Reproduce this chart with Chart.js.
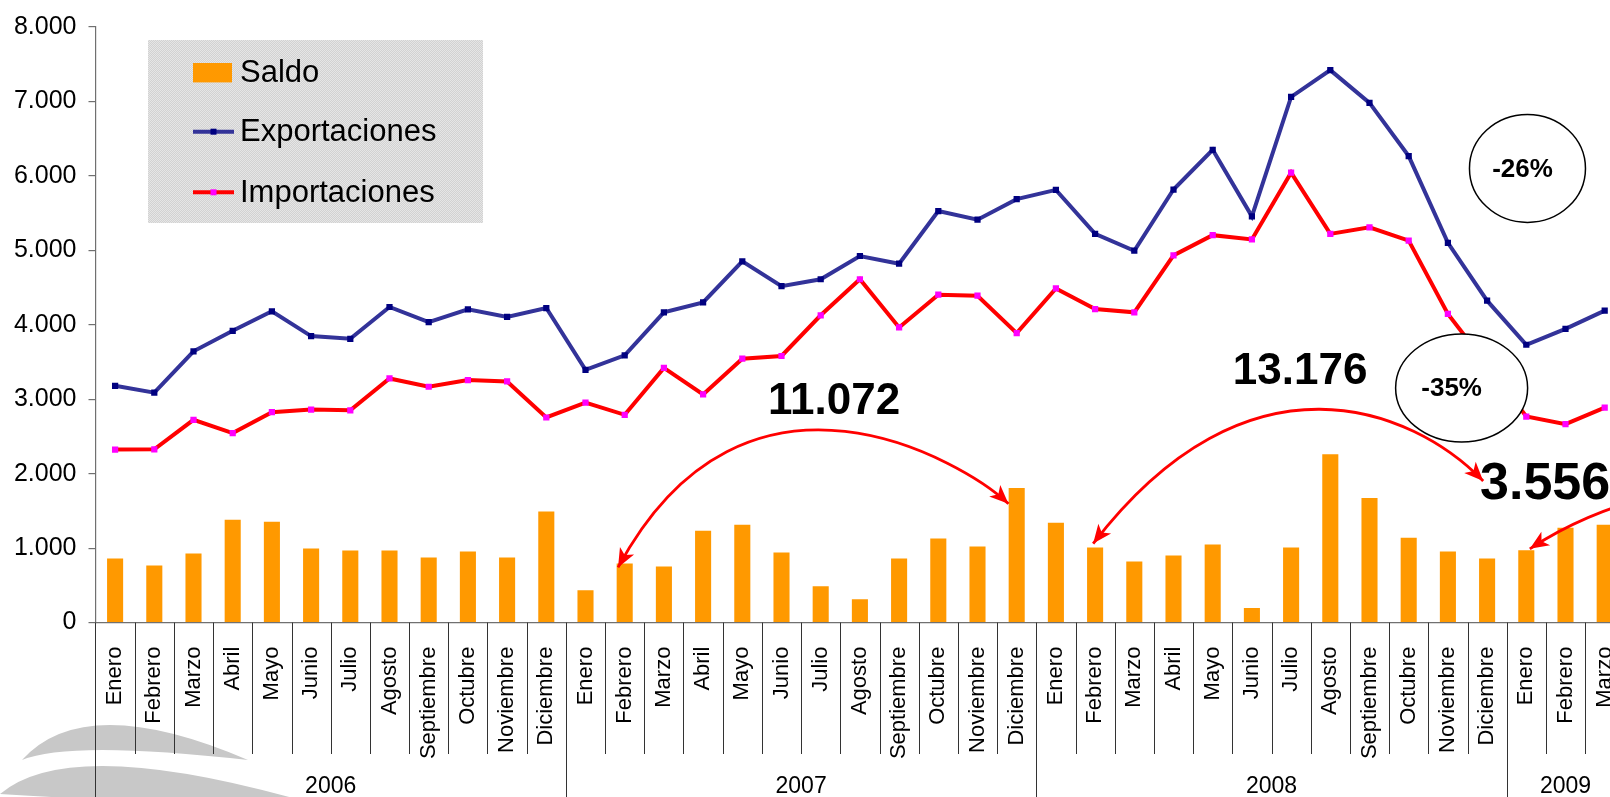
<!DOCTYPE html>
<html>
<head>
<meta charset="utf-8">
<script src="https://cdn.jsdelivr.net/npm/chart.js@4.4.1/dist/chart.umd.min.js"></script>
<style>
  html, body { margin: 0; padding: 0; background: #fff; overflow: hidden; }
  #wrap { width: 1610px; height: 797px; overflow: hidden; position: relative; }
  canvas { display: block; }
</style>
</head>
<body>
<div id="wrap"><canvas id="chart" width="1650" height="797"></canvas></div>
<script>
// Datos (millones), enero 2006 - marzo 2009
const meses = ['Enero', 'Febrero', 'Marzo', 'Abril', 'Mayo', 'Junio', 'Julio', 'Agosto',
  'Septiembre', 'Octubre', 'Noviembre', 'Diciembre'];
const anios = ['2006', '2007', '2008', '2009'];
const mesesPorAnio = [12, 12, 12, 3];

const exportaciones = [
  3181, 3088, 3644, 3919, 4181, 3848, 3812, 4239, 4035, 4208, 4105, 4225,
  3395, 3590, 4168, 4301, 4852, 4519, 4612, 4924, 4821, 5528, 5412, 5688,
  5812, 5221, 4995, 5817, 6351, 5457, 7061, 7421, 6981, 6266, 5101, 4324,
  3732, 3946, 4190
];
const importaciones = [
  2324, 2328, 2724, 2546, 2826, 2861, 2852, 3279, 3168, 3257, 3239, 2755,
  2955, 2791, 3421, 3065, 3545, 3581, 4128, 4612, 3964, 4404, 4391, 3888,
  4488, 4212, 4168, 4932, 5204, 5146, 6044, 5221, 5310, 5132, 4146, 3463,
  2768, 2665, 2888
];
const saldo = [
  861, 768, 928, 1381, 1355, 995, 968, 968, 875, 955, 875, 1492,
  435, 795, 755, 1235, 1315, 941, 488, 315, 861, 1128, 1021, 1808,
  1341, 1008, 821, 901, 1048, 195, 1008, 2261, 1675, 1141, 955, 861,
  972, 1275, 1315
];
const yTicks = [0, 1000, 2000, 3000, 4000, 5000, 6000, 7000, 8000];

// Totales anuales del saldo y variaciones (texto de las anotaciones)
const totales = ['11.072', '13.176', '3.556'];
const variaciones = ['-26%', '-35%'];

const categorias = anios.flatMap((a, k) => meses.slice(0, mesesPorAnio[k]));

const FONT = "'Liberation Sans', Arial, sans-serif";
const fmt = v => String(v).replace(/\B(?=(\d{3})+(?!\d))/g, '.');

// Logo gris (media lunas) abajo a la izquierda
const logoPlugin = {
  id: 'logo',
  beforeDraw(chart) {
    const ctx = chart.ctx;
    ctx.save();
    ctx.fillStyle = '#c8c8c8';
    ctx.beginPath();
    ctx.moveTo(22, 760);
    ctx.quadraticCurveTo(85, 690, 248, 760);
    ctx.quadraticCurveTo(70, 740, 22, 760);
    ctx.fill();
    ctx.beginPath();
    ctx.moveTo(0, 794);
    ctx.quadraticCurveTo(69, 735, 300, 800);
    ctx.quadraticCurveTo(110, 802, 0, 794);
    ctx.fill();
    ctx.restore();
  }
};

// Leyenda con fondo punteado
const leyendaPlugin = {
  id: 'leyenda',
  afterDraw(chart, args, o) {
    const ctx = chart.ctx;
    ctx.save();
    const c = document.createElement('canvas');
    c.width = 2; c.height = 2;
    const p = c.getContext('2d');
    p.fillStyle = '#d2d2d2'; p.fillRect(0, 0, 2, 2);
    p.fillStyle = '#e6e6e6'; p.fillRect(0, 0, 1, 1); p.fillRect(1, 1, 1, 1);
    ctx.fillStyle = ctx.createPattern(c, 'repeat');
    ctx.fillRect(o.x, o.y, o.w, o.h);

    ctx.font = o.fontSize + 'px ' + FONT;
    ctx.textBaseline = 'middle';
    ctx.textAlign = 'left';
    chart.data.datasets.forEach((ds, i) => {
      const cy = o.rowY[i];
      if (ds.type === 'bar') {
        ctx.fillStyle = ds.backgroundColor;
        ctx.fillRect(o.symX, cy - 9.7, o.symW - 2, 19.4);
      } else {
        ctx.strokeStyle = ds.borderColor;
        ctx.lineWidth = 4;
        ctx.beginPath();
        ctx.moveTo(o.symX, cy); ctx.lineTo(o.symX + o.symW, cy);
        ctx.stroke();
        ctx.fillStyle = ds.pointBackgroundColor;
        ctx.fillRect(o.symX + o.symW / 2 - 3, cy - 3, 6, 6);
      }
      ctx.fillStyle = '#000';
      ctx.fillText(ds.label, o.textX, cy + 1);
    });
    ctx.restore();
  }
};

// Separadores de meses y fila de años bajo el eje X
const aniosPlugin = {
  id: 'anios',
  afterDraw(chart, args, o) {
    const { ctx, scales: { x } } = chart;
    const top = x.top;
    const half = (x.getPixelForValue(1) - x.getPixelForValue(0)) / 2;
    ctx.save();
    ctx.strokeStyle = '#333';
    ctx.lineWidth = 1;
    const inicios = [];
    let acc = 0;
    mesesPorAnio.forEach(n => { inicios.push(acc); acc += n; });
    for (let i = 0; i <= categorias.length; i++) {
      const bx = Math.round(x.getPixelForValue(i) - half) + 0.5;
      const esAnio = inicios.includes(i) || i === categorias.length;
      ctx.beginPath();
      ctx.moveTo(bx, top);
      ctx.lineTo(bx, esAnio ? chart.height : top + o.monthSepLen);
      ctx.stroke();
    }
    ctx.fillStyle = '#000';
    ctx.font = o.fontSize + 'px ' + FONT;
    ctx.textAlign = 'center';
    ctx.textBaseline = 'alphabetic';
    anios.forEach((a, k) => {
      const i0 = inicios[k], i1 = i0 + mesesPorAnio[k] - 1;
      const cx = (x.getPixelForValue(i0) + x.getPixelForValue(i1)) / 2;
      ctx.fillText(a, cx, o.baseY);
    });
    ctx.restore();
  }
};

// Flechas, totales y elipses de variación
function punta(ctx, desde, hasta) {
  const ang = Math.atan2(hasta[1] - desde[1], hasta[0] - desde[0]);
  ctx.save();
  ctx.translate(hasta[0], hasta[1]);
  ctx.rotate(ang);
  ctx.beginPath();
  ctx.moveTo(0, 0);
  ctx.lineTo(-19, -8);
  ctx.lineTo(-14, 0);
  ctx.lineTo(-19, 8);
  ctx.closePath();
  ctx.fill();
  ctx.restore();
}

const anotacionesPlugin = {
  id: 'anotaciones',
  afterDatasetsDraw(chart, args, o) {
    const { ctx, scales: { x, y } } = chart;
    const P = p => [x.getPixelForValue(p[0]), y.getPixelForValue(p[1])];
    ctx.save();
    ctx.strokeStyle = '#ff0000';
    ctx.fillStyle = '#ff0000';
    ctx.lineWidth = 2.8;
    o.flechas.forEach(f => {
      const q = f.puntos.map(P);
      ctx.beginPath();
      ctx.moveTo(q[0][0], q[0][1]);
      ctx.bezierCurveTo(q[1][0], q[1][1], q[2][0], q[2][1], q[3][0], q[3][1]);
      ctx.stroke();
      if (f.inicio) punta(ctx, q[1], q[0]);
      if (f.fin) punta(ctx, q[2], q[3]);
    });

    o.elipses.forEach(e => {
      const [cx, cy] = P(e.centro);
      ctx.beginPath();
      ctx.ellipse(cx, cy, e.rx, e.ry, 0, 0, Math.PI * 2);
      ctx.fillStyle = '#fff';
      ctx.fill();
      ctx.strokeStyle = '#000';
      ctx.lineWidth = 1.5;
      ctx.stroke();
      ctx.fillStyle = '#000';
      ctx.font = 'bold ' + e.fontSize + 'px ' + FONT;
      ctx.textAlign = 'center';
      ctx.textBaseline = 'middle';
      ctx.fillText(e.texto, cx + e.dx, cy + 1);
    });

    o.textos.forEach(t => {
      const [tx, ty] = P(t.pos);
      ctx.fillStyle = '#000';
      ctx.font = 'bold ' + t.fontSize + 'px ' + FONT;
      ctx.textAlign = t.align;
      ctx.textBaseline = 'middle';
      ctx.fillText(t.texto, tx, ty + 2);
    });
    ctx.restore();
  }
};

new Chart(document.getElementById('chart'), {
  data: {
    labels: categorias,
    datasets: [
      {
        type: 'bar', label: 'Saldo', data: saldo, order: 3,
        backgroundColor: '#ff9900', barPercentage: 0.41, categoryPercentage: 1
      },
      {
        type: 'line', label: 'Exportaciones', data: exportaciones, order: 2,
        borderColor: '#333399', borderWidth: 4, tension: 0,
        pointStyle: 'rect', pointRadius: 4.4, pointBorderWidth: 0,
        pointBackgroundColor: '#000080', pointBorderColor: '#000080'
      },
      {
        type: 'line', label: 'Importaciones', data: importaciones, order: 1,
        borderColor: '#ff0000', borderWidth: 4, tension: 0,
        pointStyle: 'rect', pointRadius: 4.4, pointBorderWidth: 0,
        pointBackgroundColor: '#ff00ff', pointBorderColor: '#ff00ff'
      }
    ]
  },
  options: {
    responsive: false,
    animation: false,
    devicePixelRatio: 1,
    layout: { padding: { top: 22.6, right: 25.7, left: 0, bottom: 0 } },
    scales: {
      x: {
        offset: true,
        grid: { display: false },
        border: { display: true, color: '#707070', width: 1.2 },
        ticks: {
          autoSkip: false, minRotation: 90, maxRotation: 90, padding: 16,
          color: '#000', font: { family: FONT, size: 22 }
        },
        afterFit(s) { s.height = 174.4; }
      },
      y: {
        min: 0, max: 8000,
        afterBuildTicks(s) { s.ticks = yTicks.map(v => ({ value: v })); },
        grid: { drawOnChartArea: false, drawTicks: true, tickLength: 7, color: '#707070', lineWidth: 1.2 },
        border: { display: true, color: '#707070', width: 1.2 },
        ticks: {
          padding: 12, color: '#000', font: { family: FONT, size: 25 },
          callback: v => fmt(v)
        },
        afterFit(s) { s.width = 95.5; }
      }
    },
    plugins: {
      legend: { display: false },
      tooltip: { enabled: false },
      leyenda: {
        x: 148, y: 40, w: 335, h: 183, fontSize: 31,
        symX: 193, symW: 41, textX: 240, rowY: [72.7, 131.7, 192.3]
      },
      anios: { monthSepLen: 131.4, fontSize: 23, baseY: 793 },
      anotaciones: {
        flechas: [
          { puntos: [[12.83, 741], [16.08, 3927], [21.70, 2143], [22.79, 1595]], inicio: true, fin: true },
          { puntos: [[24.95, 1061], [28.90, 3769], [33.09, 2885], [34.90, 1901]], inicio: true, fin: true },
          { puntos: [[36.09, 991], [37.11, 1341], [38.39, 1635], [39.92, 1768]], inicio: true, fin: false }
        ],
        elipses: [
          { centro: [36.03, 6101], rx: 58, ry: 54, texto: variaciones[0], fontSize: 26, dx: -5 },
          { centro: [34.35, 3152], rx: 66, ry: 54, texto: variaciones[1], fontSize: 26, dx: -10 }
        ],
        textos: [
          { pos: [18.34, 2995], texto: totales[0], fontSize: 44, align: 'center' },
          { pos: [30.23, 3395], texto: totales[1], fontSize: 44, align: 'center' },
          { pos: [34.82, 1881], texto: totales[2], fontSize: 52, align: 'left' }
        ]
      }
    }
  },
  plugins: [logoPlugin, leyendaPlugin, aniosPlugin, anotacionesPlugin]
});
</script>
</body>
</html>
